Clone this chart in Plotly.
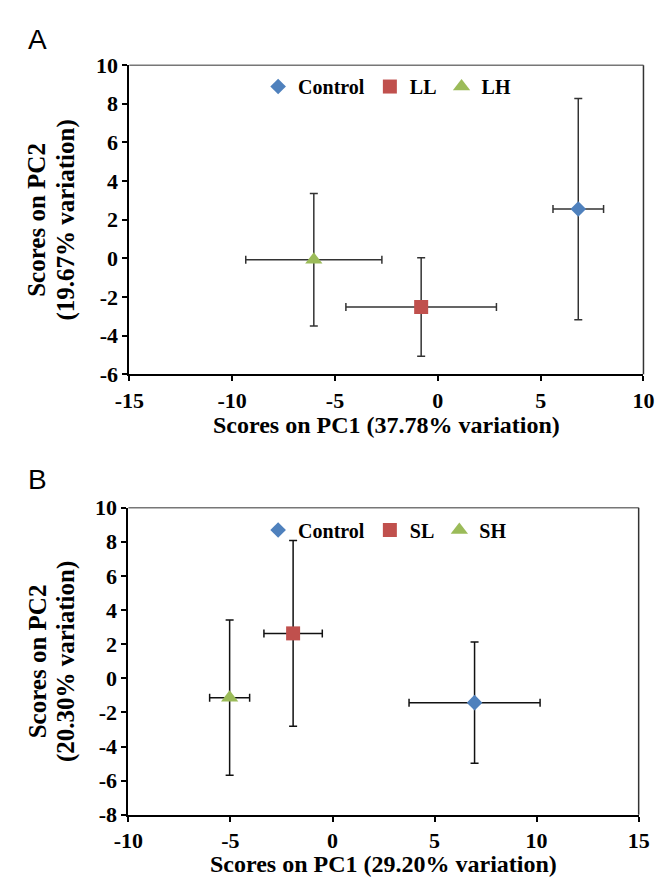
import plotly.graph_objects as go

# ---------------- data ----------------
groups_a = ["Control", "LL", "LH"]
pc1_a = [6.83, -0.81, -6.03]
pc2_a = [2.55, -2.52, -0.08]
pc1_err_a = [1.23, 3.66, 3.31]
pc2_err_a = [5.73, 2.55, 3.43]

groups_b = ["Control", "SL", "SH"]
pc1_b = [6.96, -1.93, -5.04]
pc2_b = [-1.43, 2.63, -1.14]
pc1_err_b = [3.21, 1.43, 0.98]
pc2_err_b = [3.55, 5.45, 4.55]

xticks_a = [-15, -10, -5, 0, 5, 10]
yticks_a = [-6, -4, -2, 0, 2, 4, 6, 8, 10]
xticks_b = [-10, -5, 0, 5, 10, 15]
yticks_b = [-8, -6, -4, -2, 0, 2, 4, 6, 8, 10]

xtitle_a = "Scores on PC1 (37.78% variation)"
ytitle_a = ["Scores on PC2", "(19.67% variation)"]
xtitle_b = "Scores on PC1 (29.20% variation)"
ytitle_b = ["Scores on PC2", "(20.30% variation)"]

colors = ["#4F81BD", "#C0504D", "#9BBB59"]
symbols = ["diamond", "square", "triangle-up"]
sizes = [12, 14, 15]

W, H = 666, 888
SERIF = "Liberation Serif"

fig = go.Figure()


def add_panel(groups, xs, ys, xe, ye, xa, ya, legend, errcolor):
    for i, g in enumerate(groups):
        fig.add_trace(go.Scatter(
            x=[xs[i]], y=[ys[i]], name=g, mode="markers",
            xaxis=xa, yaxis=ya, legend=legend,
            marker=dict(color=colors[i], symbol=symbols[i], size=sizes[i],
                        line=dict(width=0)),
            error_x=dict(type="data", array=[xe[i]], symmetric=True,
                         color=errcolor, thickness=1.5, width=4),
            error_y=dict(type="data", array=[ye[i]], symmetric=True,
                         color=errcolor, thickness=1.5, width=4),
        ))


add_panel(groups_a, pc1_a, pc2_a, pc1_err_a, pc2_err_a, "x", "y", "legend", "#333333")
add_panel(groups_b, pc1_b, pc2_b, pc1_err_b, pc2_err_b, "x2", "y2", "legend2", "#111111")


def px_x(p):
    return p / W


def px_y(p):
    return 1 - p / H


dom_a_x = [px_x(119), px_x(654)]
dom_a_y = [px_y(372.7), px_y(54.7)]
dom_b_x = [px_x(118), px_x(649)]
dom_b_y = [px_y(826), px_y(510)]

axis_common = dict(
    showline=True, linecolor="black", linewidth=2,
    ticks="outside", ticklen=5, tickwidth=1.5, tickcolor="black",
    showgrid=False, zeroline=False, fixedrange=True,
    tickfont=dict(family=SERIF, size=22, color="black", weight="bold"),
)


def labels(vals):
    return [str(v) for v in vals]  # plain hyphen-minus as in the reference


fig.update_layout(
    width=W, height=H,
    margin=dict(l=0, r=0, t=0, b=0),
    paper_bgcolor="white", plot_bgcolor="white",
    xaxis=dict(domain=dom_a_x, range=[-15, 10], tickvals=xticks_a, ticktext=labels(xticks_a),
               anchor="y", **axis_common),
    yaxis=dict(domain=dom_a_y, range=[-6, 10], tickvals=yticks_a, ticktext=labels(yticks_a),
               anchor="x", **axis_common),
    xaxis2=dict(domain=dom_b_x, range=[-10, 15], tickvals=xticks_b, ticktext=labels(xticks_b),
                anchor="y2", **axis_common),
    yaxis2=dict(domain=dom_b_y, range=[-8, 10], tickvals=yticks_b, ticktext=labels(yticks_b),
                anchor="x2", **axis_common),
    legend=dict(orientation="h", x=px_x(253), xanchor="left", y=px_y(76.7), yanchor="middle",
                font=dict(family=SERIF, size=20, color="black", weight="bold"),
                bgcolor="rgba(0,0,0,0)", itemwidth=30),
    legend2=dict(orientation="h", x=px_x(253), xanchor="left", y=px_y(533), yanchor="middle",
                 font=dict(family=SERIF, size=20, color="black", weight="bold"),
                 bgcolor="rgba(0,0,0,0)", itemwidth=30),
    showlegend=True,
)

# top and right frame lines
for xr, yr in (("x domain", "y domain"), ("x2 domain", "y2 domain")):
    fig.add_shape(type="line", xref=xr, yref=yr, x0=0, x1=1, y0=1, y1=1,
                  line=dict(color="#777777", width=1.5))
    fig.add_shape(type="line", xref=xr, yref=yr, x0=1, x1=1, y0=0, y1=1,
                  line=dict(color="#333333", width=1.5))

ann = []
# panel letters
ann.append(dict(text="A", x=px_x(11), y=px_y(28), xref="paper", yref="paper",
                xanchor="left", yanchor="middle", showarrow=False,
                font=dict(family="Liberation Sans", size=28, color="black")))
ann.append(dict(text="B", x=px_x(11), y=px_y(481), xref="paper", yref="paper",
                xanchor="left", yanchor="middle", showarrow=False,
                font=dict(family="Liberation Sans", size=28, color="black")))

tfont = dict(family=SERIF, size=24, color="black")
yfont = dict(family=SERIF, size=25, color="black")
# x titles
ann.append(dict(text="<b>" + xtitle_a + "</b>", x=(dom_a_x[0] + dom_a_x[1]) / 2, y=px_y(425),
                xref="paper", yref="paper", xanchor="center", yanchor="middle",
                showarrow=False, font=tfont))
ann.append(dict(text="<b>" + xtitle_b + "</b>", x=(dom_b_x[0] + dom_b_x[1]) / 2, y=px_y(877),
                xref="paper", yref="paper", xanchor="center", yanchor="middle",
                showarrow=False, font=tfont))
# y titles (two lines each)
for lines, dom in ((ytitle_a, dom_a_y), (ytitle_b, dom_b_y)):
    yc = (dom[0] + dom[1]) / 2
    for j, (ln, xc) in enumerate(zip(lines, (23, 53))):
        ann.append(dict(text="<b>" + ln + "</b>", x=px_x(xc), y=yc,
                        xref="paper", yref="paper", xanchor="center", yanchor="middle",
                        textangle=-90, showarrow=False, font=yfont))

fig.update_layout(annotations=ann)

fig.write_html("out.html")
